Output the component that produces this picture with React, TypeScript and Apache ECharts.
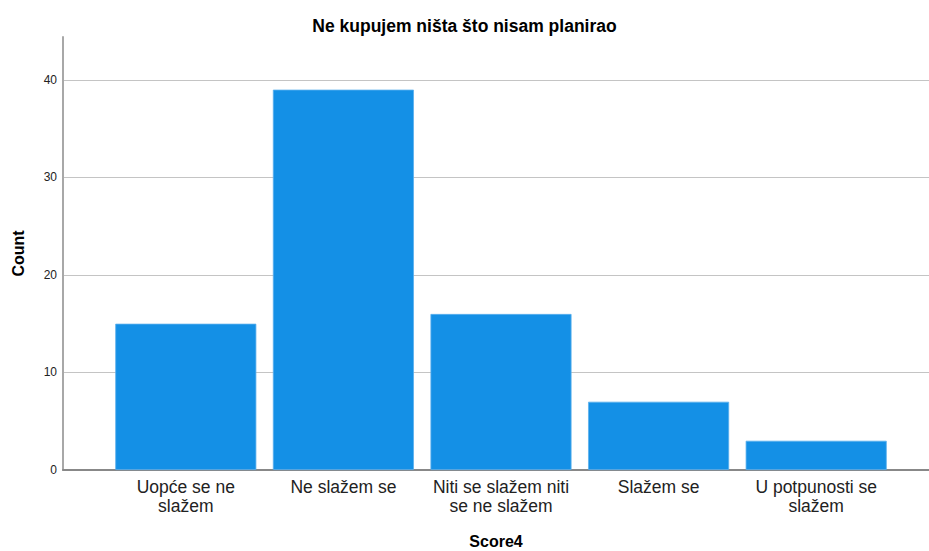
import React, { useEffect, useRef } from "react";
import * as echarts from "echarts";

const categories = [
  "Uopće se ne\nslažem",
  "Ne slažem se",
  "Niti se slažem niti\nse ne slažem",
  "Slažem se",
  "U potpunosti se\nslažem",
];
const counts = [15, 39, 16, 7, 3];
const yMax = 44.4;
const yInterval = 10;
const chartTitle = "Ne kupujem ništa što nisam planirao";
const xTitle = "Score4";
const yTitle = "Count";

const FONT = "'Liberation Sans', Arial, sans-serif";

export default function App() {
  const ref = useRef<HTMLDivElement>(null);
  useEffect(() => {
    if (!ref.current) return;
    const chart = echarts.init(ref.current, null, { renderer: "svg" });
    chart.setOption({
      animation: false,
      backgroundColor: "#ffffff",
      title: {
        text: chartTitle,
        left: "center",
        top: 12,
        textStyle: { fontFamily: FONT, fontSize: 17.5, fontWeight: "bold", color: "#000" },
      },
      grid: [
        { left: 63, right: 0, top: 37, bottom: 81, containLabel: false, outerBoundsMode: "none" },
        { left: 107, right: 34, top: 37, bottom: 81, containLabel: false, outerBoundsMode: "none" },
      ],
      xAxis: [
        {
          type: "value",
          gridIndex: 0,
          min: 0,
          max: 1,
          axisLine: { show: true, lineStyle: { color: "#888888", width: 2 } },
          axisTick: { show: false },
          axisLabel: { show: false },
          splitLine: { show: false },
          name: xTitle,
          nameLocation: "middle",
          nameGap: 63,
          nameTextStyle: { fontFamily: FONT, fontSize: 16, fontWeight: "bold", color: "#000" },
        },
        {
          type: "category",
          gridIndex: 1,
          data: categories,
          axisLine: { show: false },
          axisTick: { show: false },
          axisLabel: {
            fontFamily: FONT,
            fontSize: 17.5,
            color: "#222",
            lineHeight: 19,
            margin: 7,
            interval: 0,
            align: "center",
          },
          splitLine: { show: false },
        },
      ],
      yAxis: [
        {
          type: "value",
          gridIndex: 0,
          min: 0,
          max: yMax,
          interval: yInterval,
          axisLine: { show: true, lineStyle: { color: "#a8a8a8", width: 2 } },
          axisTick: { show: false },
          axisLabel: {
            fontFamily: FONT,
            fontSize: 12,
            color: "#222",
            margin: 6,
            showMaxLabel: false,
          },
          splitLine: {
            show: true,
            showMaxLine: false,
            showMinLine: false,
            lineStyle: { color: "#c4c4c4", width: 1 },
          },
          name: yTitle,
          nameLocation: "middle",
          nameGap: 37,
          nameRotate: 90,
          nameTextStyle: { fontFamily: FONT, fontSize: 16, fontWeight: "bold", color: "#000" },
        },
        {
          type: "value",
          gridIndex: 1,
          min: 0,
          max: yMax,
          interval: yInterval,
          show: false,
          splitLine: { show: false },
        },
      ],
      series: [
        {
          type: "bar",
          xAxisIndex: 1,
          yAxisIndex: 1,
          data: counts,
          barCategoryGap: "10.5%",
          itemStyle: {
            color: "#1490e6",
            borderColor: "#5ab0ee",
            borderWidth: 0.8,
          },
        },
      ],
    });
    return () => chart.dispose();
  }, []);
  return <div ref={ref} style={{ width: 929, height: 551, position: "absolute", left: 0, top: 0 }} />;
}
